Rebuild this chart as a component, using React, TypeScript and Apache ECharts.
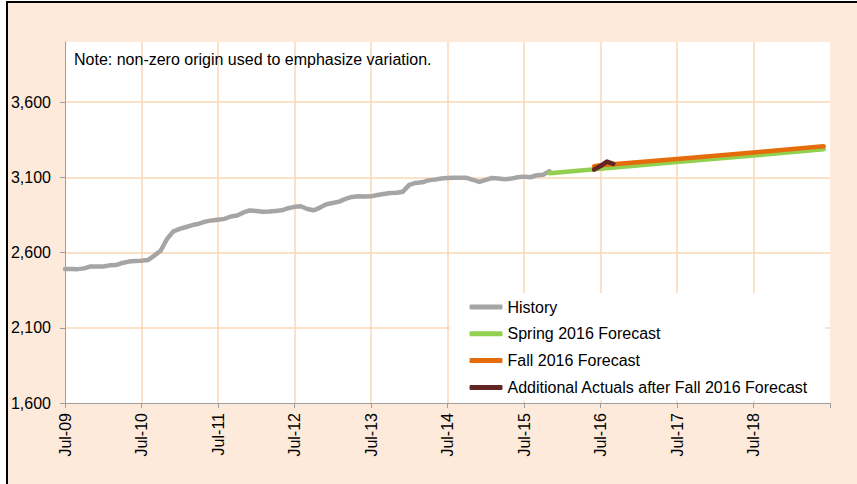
import React, { useEffect, useRef } from "react";
import * as echarts from "echarts";

const FONT = '"Liberation Sans", Arial, Helvetica, sans-serif';

const monthNames = ["Jul", "Aug", "Sep", "Oct", "Nov", "Dec", "Jan", "Feb", "Mar", "Apr", "May", "Jun"];
const startYear = 2009;
const yearCount = 10; // Jul-09 .. Jun-19, plus Jul-19 as the axis end
const categories: string[] = [];
for (let y = 0; y < yearCount; y++) {
  for (let m = 0; m < 12; m++) {
    const yr = startYear + y + (m >= 6 ? 1 : 0);
    categories.push(`${monthNames[m]}-${String(yr % 100).padStart(2, "0")}`);
  }
}
categories.push("Jul-19");

const yTicks = { min: 1600, max: 4000, interval: 500 };

// History, monthly from Jul-09
const historyValues = [
  2491, 2491, 2490, 2495, 2508, 2507, 2508, 2515, 2517, 2531, 2540, 2544,
  2545, 2550, 2580, 2612, 2690, 2741, 2757, 2770, 2783, 2792, 2806, 2814,
  2819, 2824, 2840, 2846, 2867, 2880, 2877, 2872, 2873, 2877, 2881, 2895,
  2904, 2908, 2890, 2881, 2899, 2921, 2930, 2939, 2957, 2970, 2974, 2973,
  2974, 2983, 2990, 2996, 2998, 3005, 3050, 3063, 3067, 3080, 3085, 3092,
  3096, 3098, 3097, 3097, 3083, 3070, 3083, 3096, 3092, 3088, 3092, 3101,
  3105, 3101, 3114, 3118, 3140,
];

const springMonths = ["Nov-15", "Jul-16", "Jul-17", "Jul-18", "Jun-19"];
const springValues = [3128, 3158, 3202, 3245, 3287];

const fallMonths = ["Jun-16", "Jul-16", "Jul-17", "Jul-18", "Jun-19"];
const fallValues = [3174, 3180, 3222, 3265, 3307];

const actualMonths = ["Jun-16", "Jul-16", "Aug-16", "Sep-16"];
const actualValues = [3152, 3175, 3205, 3190];

const seriesNames = [
  "History",
  "Spring 2016 Forecast",
  "Fall 2016 Forecast",
  "Additional Actuals after Fall 2016 Forecast",
];
const seriesColors = ["#A5A5A5", "#92D050", "#E46C0A", "#632523"];

const noteText = "Note: non-zero origin used to emphasize variation.";

export default function App() {
  const ref = useRef<HTMLDivElement>(null);

  useEffect(() => {
    if (!ref.current) return;
    const chart = echarts.init(ref.current, undefined, { renderer: "svg" });
    const pairs = (ms: string[], vs: number[]) => ms.map((m, i) => [m, vs[i]]);
    const lineSeries = (idx: number, data: any[]) => ({
      type: "line",
      name: seriesNames[idx],
      data,
      showSymbol: false,
      symbol: "none",
      color: seriesColors[idx],
      lineStyle: { color: seriesColors[idx], width: 4.5, cap: "round", join: "round" },
      z: 2 + idx,
    });
    const gridColor = "#FBD6B5";
    const axisColor = "#9E9E9E";
    chart.setOption({
      animation: false,
      backgroundColor: "transparent",
      textStyle: { fontFamily: FONT },
      grid: {
        left: 65,
        top: 42,
        right: 27,
        bottom: 81,
        show: true,
        backgroundColor: "#FFFFFF",
        borderWidth: 0,
      },
      graphic: [
        {
          type: "text",
          left: 74,
          top: 51.5,
          z: 10,
          style: { text: noteText, font: `16px ${FONT}`, fill: "#000" },
        },
      ],
      legend: {
        orient: "vertical",
        left: 450,
        top: 293,
        padding: [6, 17, 5, 19.5],
        backgroundColor: "#FFFFFF",
        itemWidth: 33,
        itemHeight: 5,
        itemGap: 10.8,
        icon: "roundRect",
        selectedMode: false,
        data: seriesNames,
        textStyle: { fontSize: 16, fontFamily: FONT, color: "#000", lineHeight: 16 },
      },
      xAxis: {
        type: "category",
        data: categories,
        boundaryGap: false,
        axisLine: { show: true, lineStyle: { color: axisColor, width: 1 } },
        axisTick: {
          show: true,
          interval: (i: number) => i % 12 === 0,
          length: 5,
          lineStyle: { color: axisColor },
        },
        axisLabel: {
          interval: (i: number) => i % 12 === 0 && i < 120,
          rotate: 90,
          margin: 10,
          fontSize: 16,
          fontFamily: FONT,
          color: "#000",
        },
        splitLine: {
          show: true,
          interval: (i: number) => i % 12 === 0 && i > 0 && i < 120,
          lineStyle: { color: gridColor, width: 1.5 },
        },
      },
      yAxis: {
        type: "value",
        min: yTicks.min,
        max: yTicks.max,
        interval: yTicks.interval,
        axisLine: { show: true, lineStyle: { color: axisColor, width: 1 } },
        axisTick: { show: true, length: 5, lineStyle: { color: axisColor } },
        axisLabel: {
          margin: 14,
          fontSize: 16,
          fontFamily: FONT,
          color: "#000",
          showMaxLabel: false,
          formatter: (v: number) => v.toLocaleString("en-US"),
        },
        splitLine: {
          show: true,
          showMinLine: false,
          showMaxLine: false,
          lineStyle: { color: gridColor, width: 1.5 },
        },
      },
      series: [
        lineSeries(0, historyValues),
        lineSeries(1, pairs(springMonths, springValues)),
        lineSeries(2, pairs(fallMonths, fallValues)),
        lineSeries(3, pairs(actualMonths, actualValues)),
      ],
    });
    return () => chart.dispose();
  }, []);

  return (
    <div
      style={{
        position: "fixed",
        left: 0,
        top: 0,
        width: 857,
        height: 484,
        overflow: "hidden",
        background: "#FFFFFF",
      }}
    >
      <div
        style={{
          position: "absolute",
          left: 6,
          top: 1,
          width: 880,
          height: 500,
          boxSizing: "border-box",
          border: "2px solid #000",
          background: "#FDEADA",
        }}
      />
      <div ref={ref} style={{ position: "absolute", left: 0, top: 0, width: 857, height: 484 }} />
    </div>
  );
}
